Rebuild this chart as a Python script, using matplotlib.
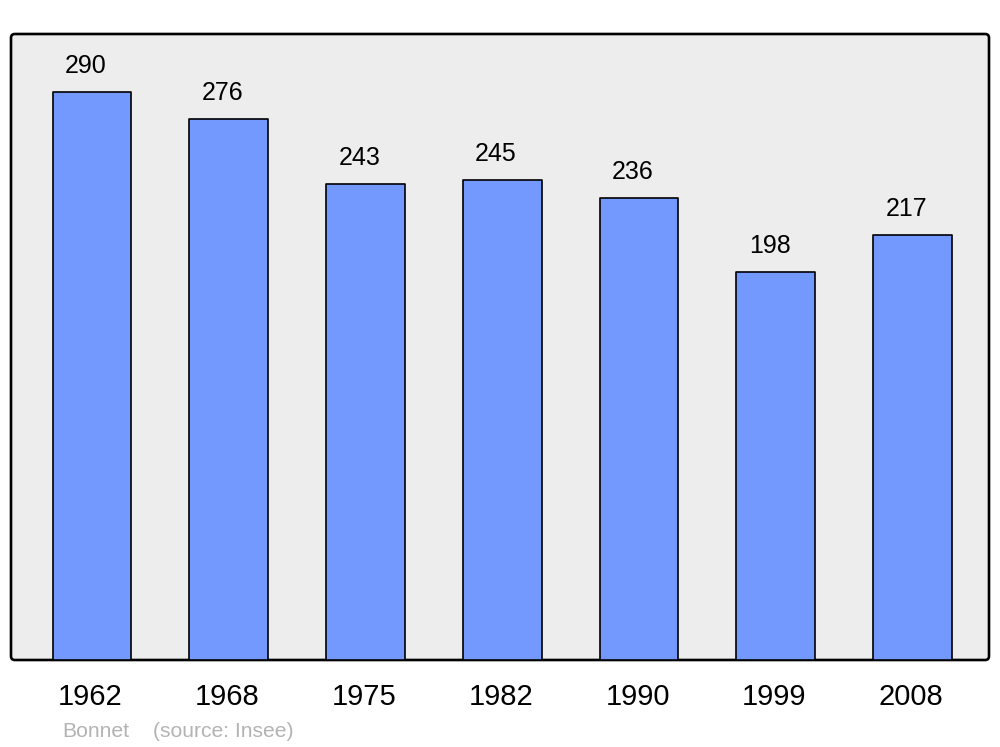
import matplotlib
matplotlib.use('Agg')
from matplotlib import pyplot as plt
from matplotlib.patches import FancyBboxPatch

years = ['1962', '1968', '1975', '1982', '1990', '1999', '2008']
population = [290, 276, 243, 245, 236, 198, 217]

bar_color = '#7399ff'
bg_color = '#ededed'

plt.rcParams['font.family'] = ['Liberation Sans', 'DejaVu Sans']

fig = plt.figure(figsize=(10, 7.47), dpi=100)
ax = fig.add_axes([0.011, 87 / 747, 0.978, 626 / 747])
ax.set_facecolor('none')

# fond gris arrondi avec cadre noir
frame = FancyBboxPatch((0, 0), 1, 1, boxstyle='round,pad=0,rounding_size=0.004',
                       transform=ax.transAxes, facecolor=bg_color, edgecolor='black',
                       linewidth=1.9, zorder=0, clip_on=False, mutation_aspect=978 / 626)
ax.add_patch(frame)

x = list(range(len(years)))
bars = ax.bar(x, population, width=0.575, color=bar_color, edgecolor='black',
              linewidth=1.2, zorder=2)
for b in bars:
    b.set_joinstyle('round')

for xi, v in zip(x, population):
    ax.annotate(str(v), (xi, v), xytext=(-4.5, 13.7), textcoords='offset points',
                ha='center', va='baseline', fontsize=18, zorder=3)

for xi, y in zip(x, years):
    ax.text(xi - 0.01, -45 / 626, y, transform=ax.get_xaxis_transform(), ha='center',
            va='baseline', fontsize=21)

ax.set_xlim(-0.592, 6.559)
ax.set_ylim(0, 319.6)
ax.set_xticks([])
ax.set_yticks([])
for s in ax.spines.values():
    s.set_visible(False)

fig.text(0.062, 1 - 737 / 747, 'Bonnet', color='#b3b3b3', fontsize=15.2, va='baseline')
fig.text(0.153, 1 - 737 / 747, '(source: Insee)', color='#b3b3b3', fontsize=15.2, va='baseline')

fig.savefig('out.png', dpi=100)
